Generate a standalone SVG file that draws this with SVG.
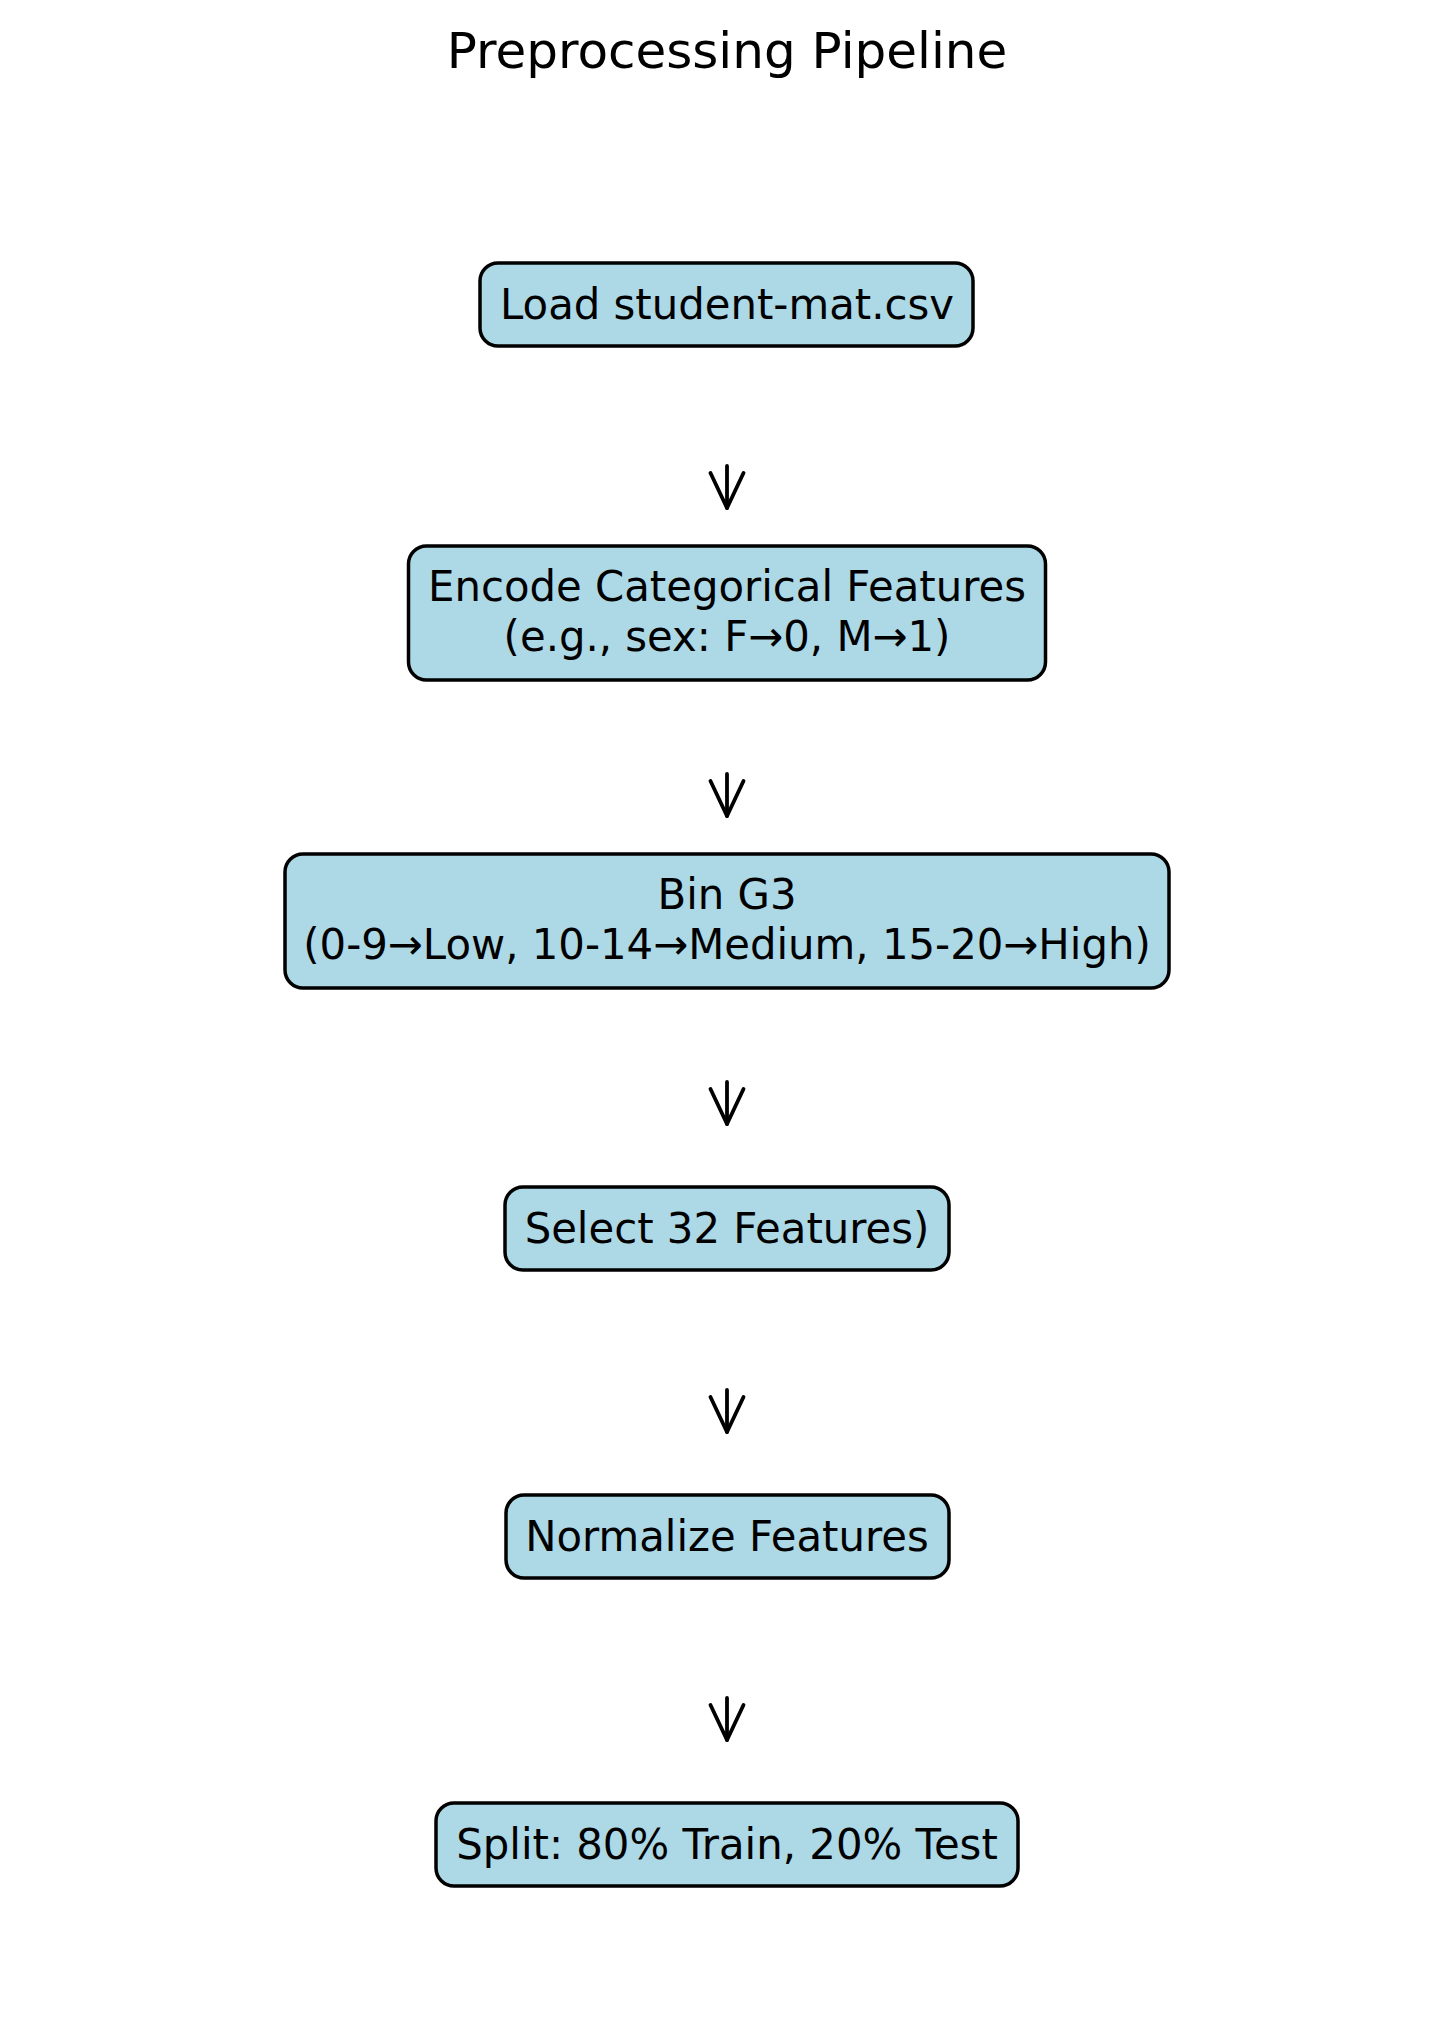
<svg xmlns="http://www.w3.org/2000/svg" width="1455" height="2029" viewBox="0 0 1455 2029">
  <style>
    .bg { fill: #ffffff; }
    .box { fill: #ADD8E6; stroke: #000000; stroke-width: 3.5; }
    .lbl { font-family: "DejaVu Sans", sans-serif; font-size: 41.8px; fill: #000000; text-anchor: middle; }
    .title { font-family: "DejaVu Sans", sans-serif; font-size: 50px; fill: #000000; text-anchor: middle; }
    .conn { fill: none; stroke: #000000; stroke-width: 3.8; stroke-linecap: round; }
  </style>
  <defs>
    <marker id="vhead" markerUnits="userSpaceOnUse" viewBox="-42 -22 48 44" markerWidth="48" markerHeight="44" refX="0" refY="0" orient="auto" overflow="visible">
      <path d="M-35,-16.5 L0,0 L-35,16.5" fill="none" stroke="#000000" stroke-width="3.8" stroke-linecap="round" stroke-linejoin="round"/>
    </marker>
  </defs>
  <rect class="bg" x="0" y="0" width="1455" height="2029"/>
  <text class="title" x="727" y="68">Preprocessing Pipeline</text>

  <g id="node-load">
    <rect class="box" x="480" y="263" width="493" height="83" rx="18" ry="18"/>
    <text class="lbl" x="727" y="318.5">Load student-mat.csv</text>
  </g>
  <g id="node-encode">
    <rect class="box" x="408.5" y="546" width="637" height="134" rx="18" ry="18"/>
    <text class="lbl" x="727" y="601">Encode Categorical Features</text>
    <text class="lbl" x="727" y="651">(e.g., sex: F→0, M→1)</text>
  </g>
  <g id="node-bin">
    <rect class="box" x="285" y="854" width="884" height="134" rx="18" ry="18"/>
    <text class="lbl" x="727" y="909">Bin G3</text>
    <text class="lbl" x="727" y="959">(0-9→Low, 10-14→Medium, 15-20→High)</text>
  </g>
  <g id="node-select">
    <rect class="box" x="505" y="1187" width="444" height="83" rx="18" ry="18"/>
    <text class="lbl" x="727" y="1242.5">Select 32 Features)</text>
  </g>
  <g id="node-normalize">
    <rect class="box" x="506" y="1495" width="443" height="83" rx="18" ry="18"/>
    <text class="lbl" x="727" y="1550.5">Normalize Features</text>
  </g>
  <g id="node-split">
    <rect class="box" x="436" y="1803" width="582" height="83" rx="18" ry="18"/>
    <text class="lbl" x="727" y="1858.5">Split: 80% Train, 20% Test</text>
  </g>

  <g id="connectors">
    <path class="conn" d="M727,466 L727,508" marker-end="url(#vhead)"/>
    <path class="conn" d="M727,774 L727,816" marker-end="url(#vhead)"/>
    <path class="conn" d="M727,1082 L727,1124" marker-end="url(#vhead)"/>
    <path class="conn" d="M727,1390 L727,1432" marker-end="url(#vhead)"/>
    <path class="conn" d="M727,1698 L727,1740" marker-end="url(#vhead)"/>
  </g>
</svg>
